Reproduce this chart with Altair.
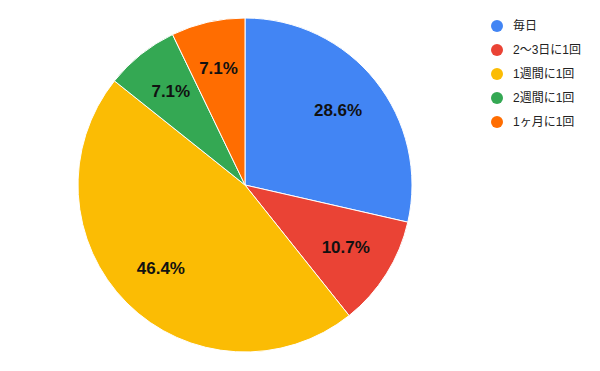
import altair as alt
import pandas as pd

categories = ["毎日", "2～3日に1回", "1週間に1回", "2週間に1回", "1ヶ月に1回"]
counts = [8, 3, 13, 2, 2]
labels = ["28.6%", "10.7%", "46.4%", "7.1%", "7.1%"]
colors = ["#4285F4", "#EA4335", "#FBBC04", "#34A853", "#FF6D01"]

df = pd.DataFrame({
    "category": categories,
    "count": counts,
    "label": labels,
    "idx": list(range(len(categories))),
})

font = "Liberation Sans, Arial, Noto Sans CJK JP, sans-serif"

base = alt.Chart(df).encode(
    theta=alt.Theta("count:Q", stack=True),
    order=alt.Order("idx:Q"),
    x=alt.value(237),
    y=alt.value(177),
)

pie = base.mark_arc(outerRadius=167, stroke="white", strokeWidth=1).encode(
    color=alt.Color(
        "category:N",
        scale=alt.Scale(domain=categories, range=colors),
        sort=categories,
        legend=alt.Legend(
            title=None,
            orient="none",
            legendX=483,
            legendY=12,
            symbolType="circle",
            symbolSize=144,
            symbolStrokeWidth=0,
            labelFont=font,
            labelFontSize=12,
            labelColor="#222222",
            labelOffset=10,
            rowPadding=12,
        ),
    )
)

text = base.mark_text(
    radius=119, font=font, fontSize=17, fontWeight="bold", color="#111111",
    baseline="middle", align="center"
).encode(text="label:N")

chart = (
    (pie + text)
    .properties(width=584, height=355, padding=0, autosize="none")
    .configure_view(stroke=None)
)

chart.save("out.html", embed_options={"renderer": "svg", "actions": False})
